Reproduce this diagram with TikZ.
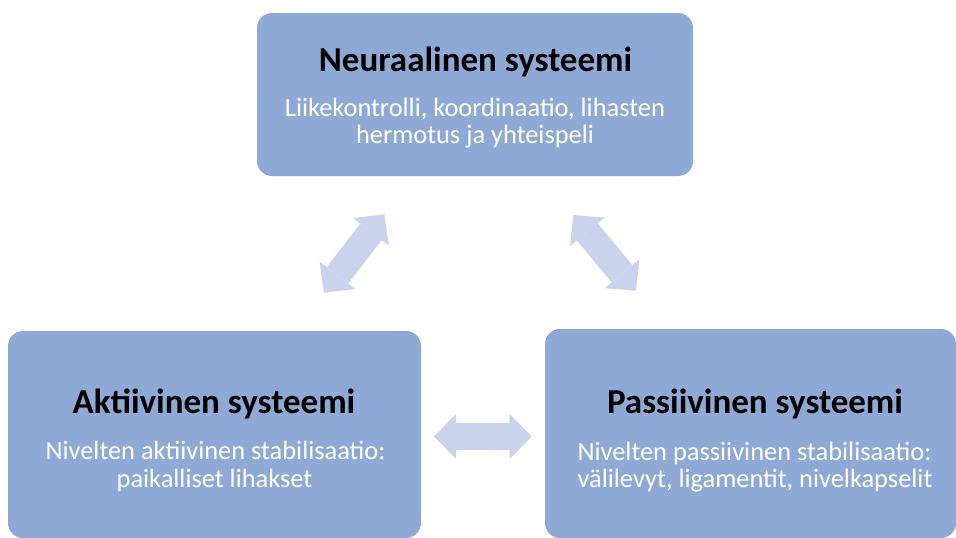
\documentclass[tikz,border=0pt]{standalone}
\usepackage{fontspec}
\setmainfont{Carlito}
\usetikzlibrary{arrows.meta}
\definecolor{boxblue}{HTML}{8FA9D7}
\definecolor{arrowblue}{HTML}{C9D3EC}
\begin{document}
\begin{tikzpicture}[x=1pt,y=-1pt,
	sysbox/.style={fill=boxblue,rounded corners=15pt,inner sep=0pt},
	systitle/.style={anchor=base,inner sep=0pt,font=\bfseries\fontsize{35}{42}\selectfont},
	systext/.style={anchor=base,inner sep=0pt,text=white,font=\fontsize{26.4}{31}\selectfont},
	link/.style={arrowblue,line width=27pt,{Triangle[width=45pt,length=22pt,line width=0pt]}-{Triangle[width=45pt,length=22pt,line width=0pt]}}]
	\useasboundingbox(0,0)rectangle(956,538);
	\clip(0,0)rectangle(956,538);
	% boxes
	\node[sysbox,minimum width=436pt,minimum height=163pt](neur)at(475,94.5){};
	\node[sysbox,minimum width=413pt,minimum height=207pt](akt)at(214.5,434.5){};
	\node[sysbox,minimum width=411pt,minimum height=209pt](pas)at(750.5,433.5){};
	% texts
	\node[systitle](neurtitle)at(475.5,71){Neuraalinen systeemi};
	\node[systext](neurtext1)at(475,116.5){Liikekontrolli, koordinaatio, lihasten};
	\node[systext](neurtext2)at(475,143.5){hermotus ja yhteispeli};
	\node[systitle](akttitle)at(214,413.3){Aktiivinen systeemi};
	\node[systext](akttext1)at(215.5,459.5){Nivelten aktiivinen stabilisaatio:};
	\node[systext](akttext2)at(214.5,487.5){paikalliset lihakset};
	\node[systitle](pastitle)at(755,413){Passiivinen systeemi};
	\node[systext](pastext1)at(754.5,460){Nivelten passiivinen stabilisaatio:};
	\node[systext](pastext2)at(755,487){välilevyt, ligamentit, nivelkapselit};
	% arrows
	\coordinate(aktend)at(324,292.7);
	\coordinate(neurend1)at(384.4,214.4);
	\coordinate(neurend2)at(573.3,215);
	\coordinate(pasend)at(636,290.7);
	\coordinate(aktend2)at(434,436.5);
	\coordinate(pasend2)at(531.7,436.5);
	\draw[link](aktend)--(neurend1);
	\draw[link](neurend2)--(pasend);
	\draw[link](aktend2)--(pasend2);
\end{tikzpicture}
\end{document}
